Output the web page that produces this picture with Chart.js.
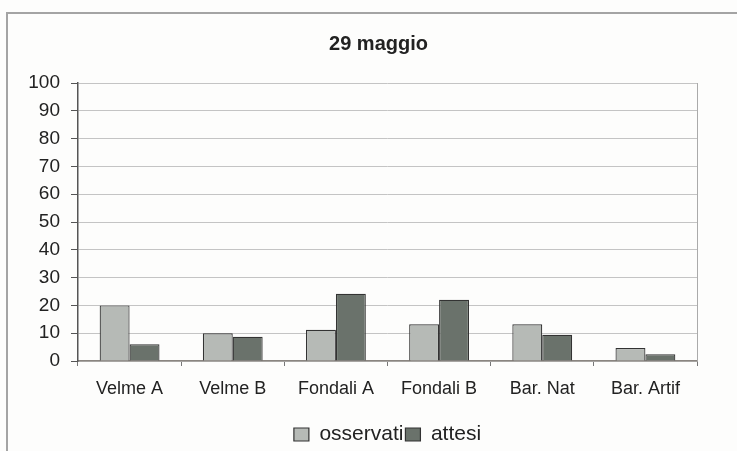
<!DOCTYPE html>
<html lang="it">
<head>
    <meta charset="UTF-8">
    <title>29 maggio</title>
    <script src="https://cdn.jsdelivr.net/npm/chart.js@4.4.0/dist/chart.umd.min.js"></script>
    <style>
        html, body { margin: 0; padding: 0; background: #fdfdfc; overflow: hidden; }
        .frame {
            position: absolute; left: 6px; top: 12px;
            width: 800px; height: 500px;
            border: 2px solid #a4a4a4;
            box-sizing: border-box;
        }
        #chart { position: absolute; left: 0; top: 0; }
    </style>
</head>
<body>
    <div class="frame"></div>
    <canvas id="chart" width="737" height="451"></canvas>
    <script>
        // stazioni di campionamento
        const categories = ['Velme A', 'Velme B', 'Fondali A', 'Fondali B', 'Bar. Nat', 'Bar. Artif'];
        const osservati = [20, 10, 11.2, 13.2, 13.2, 4.7];
        const attesi = [6, 8.7, 24.2, 22, 9.4, 2.4];
        const yTicks = [0, 10, 20, 30, 40, 50, 60, 70, 80, 90, 100];

        Chart.defaults.font.family = '"Liberation Sans", Arial, sans-serif';
        Chart.defaults.color = '#222';

        // bordo destro dell'area del grafico
        const plotFrame = {
            id: 'plotFrame',
            afterDraw(chart) {
                const { ctx, chartArea } = chart;
                ctx.save();
                ctx.strokeStyle = '#aaaaaa';
                ctx.lineWidth = 1;
                ctx.beginPath();
                ctx.moveTo(chartArea.right + 0.5, chartArea.top);
                ctx.lineTo(chartArea.right + 0.5, chartArea.bottom);
                ctx.stroke();
                ctx.restore();
            }
        };

        new Chart(document.getElementById('chart'), {
            type: 'bar',
            data: {
                labels: categories,
                datasets: [{
                    label: 'osservati',
                    data: osservati,
                    backgroundColor: '#b6bab6',
                    borderColor: '#333',
                    borderWidth: 1.2
                }, {
                    label: 'attesi',
                    data: attesi,
                    backgroundColor: '#6a726b',
                    borderColor: '#333',
                    borderWidth: 1.2
                }]
            },
            options: {
                responsive: false,
                animation: false,
                categoryPercentage: 0.58,
                barPercentage: 1.0,
                layout: { padding: { left: 20, right: 0, top: 0, bottom: -4 } },
                plugins: {
                    title: {
                        display: true,
                        text: '29 maggio',
                        font: { size: 20, weight: 'bold' },
                        color: '#222',
                        padding: { top: 32, bottom: 27 }
                    },
                    legend: {
                        position: 'bottom',
                        fullSize: false,
                        labels: {
                            font: { size: 21 },
                            boxWidth: 15,
                            boxHeight: 13,
                            padding: 2,
                            color: '#222'
                        }
                    },
                    tooltip: { enabled: false }
                },
                scales: {
                    x: {
                        grid: {
                            drawOnChartArea: false,
                            tickLength: 5,
                            tickColor: '#777',
                            offset: true
                        },
                        border: { color: '#8a8580', width: 1.5 },
                        ticks: { font: { size: 18 }, padding: 12, color: '#222' },
                        afterFit(scale) { scale.height = 61; }
                    },
                    y: {
                        min: 0,
                        max: 100,
                        afterBuildTicks(scale) { scale.ticks = yTicks.map(v => ({ value: v })); },
                        grid: { color: '#c4c4c4', tickLength: 7, tickColor: '#555' },
                        border: { color: '#555', width: 1.5 },
                        ticks: { font: { size: 19 }, padding: 11, color: '#222' },
                        afterFit(scale) { scale.width = 58; }
                    },
                    // asse vuoto a destra: solo margine
                    margin: {
                        position: 'right',
                        grid: { display: false },
                        border: { display: false },
                        ticks: { display: false },
                        afterFit(scale) { scale.width = 40; }
                    }
                }
            },
            plugins: [plotFrame]
        });
    </script>
</body>
</html>
